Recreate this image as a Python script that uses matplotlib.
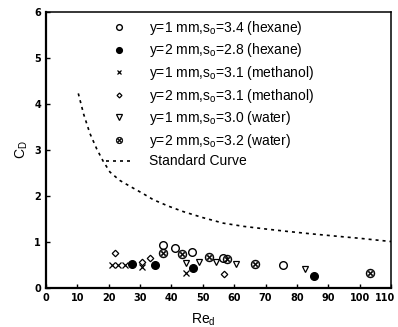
import matplotlib
matplotlib.use("Agg")
import matplotlib.pyplot as plt
from matplotlib.transforms import ScaledTranslation

# Drag coefficient vs droplet Reynolds number
hex1_re = [37.2, 41.1, 46.5, 56.3, 75.5]
hex1_cd = [0.94, 0.86, 0.78, 0.65, 0.49]

hex2_re = [27.5, 34.9, 47.0, 85.5]
hex2_cd = [0.52, 0.50, 0.43, 0.26]

meth1_re = [21.0, 23.0, 25.2, 30.5, 44.6]
meth1_cd = [0.50, 0.50, 0.50, 0.46, 0.32]

meth2_re = [22.0, 30.5, 33.2, 56.8]
meth2_cd = [0.77, 0.57, 0.65, 0.30]

wat1_re = [44.6, 48.9, 54.2, 60.6, 82.6]
wat1_cd = [0.55, 0.56, 0.56, 0.52, 0.42]

wat2_re = [37.2, 43.3, 52.1, 57.8, 66.6, 103.3]
wat2_cd = [0.77, 0.74, 0.67, 0.62, 0.53, 0.32]

std_re = [10.3, 12.0, 14.0, 16.2, 18.2, 20.4, 23.5, 26.8, 31.0, 34.2,
          39.0, 43.8, 50.0, 56.5, 63.0, 70.4, 77.0, 84.2, 92.0, 100.1, 110.0]
std_cd = [4.23, 3.78, 3.36, 3.02, 2.76, 2.52, 2.34, 2.21, 2.05, 1.92,
          1.78, 1.66, 1.53, 1.41, 1.34, 1.28, 1.23, 1.18, 1.13, 1.08, 1.01]

labels = [
    r"y=1 mm,s$_{\mathregular{o}}$=3.4 (hexane)",
    r"y=2 mm,s$_{\mathregular{o}}$=2.8 (hexane)",
    r"y=1 mm,s$_{\mathregular{o}}$=3.1 (methanol)",
    r"y=2 mm,s$_{\mathregular{o}}$=3.1 (methanol)",
    r"y=1 mm,s$_{\mathregular{o}}$=3.0 (water)",
    r"y=2 mm,s$_{\mathregular{o}}$=3.2 (water)",
    "Standard Curve",
]

x_ticks = [0, 10, 20, 30, 40, 50, 60, 70, 80, 90, 100, 110]
y_ticks = [0, 1, 2, 3, 4, 5, 6]

plt.rcParams["font.family"] = ["Liberation Sans", "DejaVu Sans"]

fig = plt.figure(figsize=(3.98, 3.27), dpi=100)
ax = fig.add_axes([46 / 398, 39 / 327, 345 / 398, 276 / 327])

ax.plot(hex1_re, hex1_cd, linestyle="none", marker="o", ms=5.5,
        mfc="white", mec="black", mew=1.0, label=labels[0])
ax.plot(hex2_re, hex2_cd, linestyle="none", marker="o", ms=5.5,
        mfc="black", mec="black", mew=1.0, label=labels[1])
ax.plot(meth1_re, meth1_cd, linestyle="none", marker="x", ms=4.5,
        mec="black", mew=0.9, label=labels[2])
ax.plot(meth2_re, meth2_cd, linestyle="none", marker="D", ms=3.3,
        mfc="white", mec="black", mew=0.9, label=labels[3])
ax.plot(wat1_re, wat1_cd, linestyle="none", marker="v", ms=5,
        mfc="white", mec="black", mew=0.9, label=labels[4])
ax.plot(wat2_re, wat2_cd, linestyle="none", marker=r"$\otimes$", ms=6.5,
        mfc="black", mec="black", mew=0.3, label=labels[5])
ax.plot(std_re, std_cd, color="black", lw=1.2, linestyle=(0, (1.8, 2.4)),
        label=labels[6])

ax.set_xlim(0, 110)
ax.set_ylim(0, 6)
ax.set_xticks(x_ticks)
ax.set_yticks(y_ticks)
ax.tick_params(direction="in", length=3, width=1.0, labelsize=7,
               top=False, right=False)
for t in ax.get_xticklabels() + ax.get_yticklabels():
    t.set_fontweight("bold")
    t.set_family(["DejaVu Sans"])

# keep the last x label inside the canvas
last = ax.get_xticklabels()[-1]
last.set_transform(last.get_transform()
                   + ScaledTranslation(-4 / 72, 0, fig.dpi_scale_trans))

for side in ["left", "bottom"]:
    ax.spines[side].set_linewidth(1.6)
for side in ["top", "right"]:
    ax.spines[side].set_linewidth(1.1)

ax.set_ylabel(r"C$_{\mathregular{D}}$", fontsize=10)
ax.yaxis.set_label_coords(-0.045, 0.5)
ax.set_xlabel(r"Re$_{\mathregular{d}}$", fontsize=10)
ax.xaxis.set_label_coords(0.455, -0.085)

leg = ax.legend(loc="upper left", bbox_to_anchor=(0.175, 0.975),
                frameon=False, fontsize=10, handlelength=1.8,
                handletextpad=1.3, labelspacing=0.33, borderpad=0,
                borderaxespad=0, numpoints=1, markerscale=0.75)

fig.savefig("out.png", dpi=100)
